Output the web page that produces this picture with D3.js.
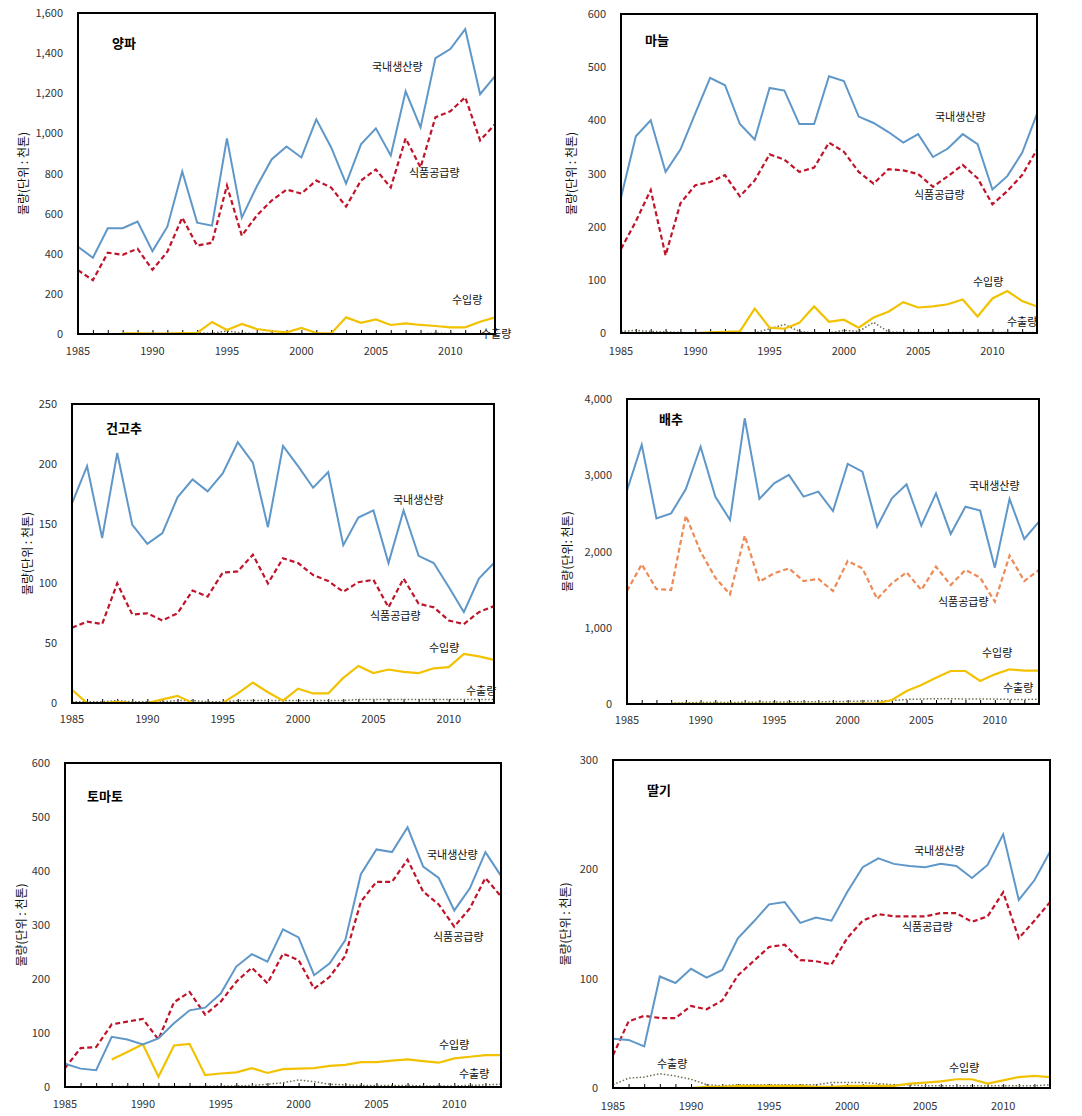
<!DOCTYPE html>
<html><head><meta charset="utf-8">
<script src="https://cdn.jsdelivr.net/npm/d3@7"></script>
<style>
html,body{margin:0;padding:0;background:#fff;}
svg text{font-family:"Noto Sans CJK KR","Noto Sans",sans-serif;}
</style></head>
<body>
<svg id="chart" width="1082" height="1116"></svg>
<script>
const years = [1985,1986,1987,1988,1989,1990,1991,1992,1993,1994,1995,1996,1997,1998,1999,2000,2001,2002,2003,2004,2005,2006,2007,2008,2009,2010,2011,2012,2013];
const xTickLabels = [1985,1990,1995,2000,2005,2010];
const seriesNames = ['국내생산량','식품공급량','수입량','수출량'];
const crops = ['양파','마늘','건고추','배추','토마토','딸기'];

// 양파
const onionProd   = [435,380,527,527,560,413,535,810,555,540,975,580,735,870,935,880,1070,930,750,945,1025,890,1210,1030,1375,1420,1520,1195,1285];
const onionSupply = [318,268,405,395,425,320,410,580,440,455,740,490,590,665,720,700,765,730,635,765,820,730,975,830,1080,1110,1180,965,1045];
const onionImport = [null,null,null,3,3,2,2,5,5,60,20,50,25,15,8,30,5,3,83,56,73,45,53,45,40,33,33,61,83];
const onionExport = [null,null,null,3,3,2,3,5,5,3,15,5,2,2,1,1,1,1,1,1,1,1,1,1,4,2,1,1,1];
// 마늘
const garlicProd   = [255,370,400,303,345,413,480,466,393,364,461,456,393,393,483,474,407,395,378,358,374,331,347,374,355,270,295,339,412];
const garlicSupply = [158,210,269,146,244,278,284,297,257,287,336,326,303,311,358,341,303,281,308,306,299,275,295,316,291,242,267,297,345];
const garlicImport = [null,null,null,null,null,0,1,2,3,46,10,8,19,50,21,25,10,29,40,58,48,50,54,63,31,65,79,60,50];
const garlicExport = [3,5,3,2,1,0,0,1,1,0,8,16,3,0,0,5,3,20,2,1,1,1,1,1,1,1,1,1,1];
// 건고추
const pepperProd   = [167,198,138,209,149,133,142,172,187,177,192,218,201,147,215,198,180,193,132,155,161,117,161,123,117,97,76,104,117];
const pepperSupply = [63,68,66,100,74,75,69,75,94,89,109,110,124,100,121,117,107,102,93,101,103,80,104,83,80,69,66,76,81];
const pepperImport = [11,0,0,1,0,0,3,6,0,0,0,8,17,9,2,12,8,8,21,31,25,28,26,25,29,30,41,39,36];
const pepperExport = [1,1,1,2,1,1,1,2,2,1,1,2,2,2,2,2,2,2,2,3,3,3,3,3,3,3,3,3,3];
// 배추
const cabbageProd   = [2800,3400,2435,2500,2820,3375,2720,2413,3747,2690,2894,3004,2720,2785,2531,3148,3047,2326,2698,2881,2339,2763,2230,2588,2536,1788,2689,2164,2391];
const cabbageSupply = [1482,1832,1508,1495,2470,1998,1657,1438,2208,1605,1714,1779,1613,1640,1482,1876,1779,1377,1583,1727,1495,1801,1561,1758,1657,1342,1946,1613,1758];
const cabbageImport = [null,null,null,2,2,2,2,2,2,2,2,2,2,2,2,2,5,10,52,170,250,345,433,433,302,389,455,437,437];
const cabbageExport = [null,null,null,10,15,20,20,20,22,25,25,28,30,30,32,35,38,40,45,60,65,70,70,65,65,65,60,60,62];
// 토마토
const tomatoProd   = [43,34,31,93,88,79,90,118,142,147,173,223,246,232,292,277,207,229,272,394,440,435,481,408,387,327,368,435,391];
const tomatoSupply = [35,72,74,116,121,126,88,157,176,134,158,195,221,192,247,235,182,204,243,343,380,380,421,362,338,297,331,387,353];
const tomatoImport = [null,null,null,51,65,79,19,77,80,22,25,27,35,26,33,34,35,39,41,46,46,49,51,48,45,53,56,59,59];
const tomatoExport = [null,null,null,1,1,1,1,1,1,1,2,2,3,5,8,13,10,5,4,3,3,3,3,2,2,2,3,4,5];
// 딸기
const strawProd   = [45,44,38,102,96,109,101,108,137,152,168,170,151,156,153,179,202,210,205,203,202,205,203,192,204,232,172,190,216];
const strawSupply = [30,61,66,64,64,75,72,80,103,116,129,131,117,116,113,137,153,159,157,157,157,160,160,152,157,179,137,153,170];
const strawImport = [null,null,null,null,null,0,1,1,2,2,2,2,2,1,1,2,2,2,2,4,5,6,8,8,4,7,10,11,10];
const strawExport = [3,9,10,13,11,8,3,2,3,3,3,3,3,3,5,5,5,4,3,3,2,2,2,2,2,2,2,2,3];

const panels = [
  {title:crops[0], s:[onionProd,onionSupply,onionImport,onionExport], yMax:1600, yStep:200, box:[78,13,495,334], supplyColor:'#C0142B',
   labels:[[372,68],[409,174],[452,301],[481,335]], titlePos:[112,44], yTitleX:25, yTitle:'물량(단위 : 천톤)', xLabelY:352},
  {title:crops[1], s:[garlicProd,garlicSupply,garlicImport,garlicExport], yMax:600, yStep:100, box:[621,14,1037,333], supplyColor:'#C0142B',
   labels:[[935,118],[914,196],[973,283],[1007,323]], titlePos:[645,41], yTitleX:573, yTitle:'물량(단위 : 천톤)', xLabelY:352},
  {title:crops[2], s:[pepperProd,pepperSupply,pepperImport,pepperExport], yMax:250, yStep:50, box:[72,404,494,703], supplyColor:'#C0142B',
   labels:[[393,501],[370,617],[429,649],[466,692]], titlePos:[106,429], yTitleX:29, yTitle:'물량(단위 : 천톤)', xLabelY:720},
  {title:crops[3], s:[cabbageProd,cabbageSupply,cabbageImport,cabbageExport], yMax:4000, yStep:1000, box:[627,399,1039,704], supplyColor:'#EE8A55',
   labels:[[969,487],[938,603],[982,654],[1003,689]], titlePos:[659,420], yTitleX:569, yTitle:'물량(단위: 천톤)', xLabelY:721},
  {title:crops[4], s:[tomatoProd,tomatoSupply,tomatoImport,tomatoExport], yMax:600, yStep:100, box:[65,763,501,1087], supplyColor:'#C0142B',
   labels:[[427,856],[433,938],[439,1046],[459,1075]], titlePos:[87,797], yTitleX:23, yTitle:'물량(단위 : 천톤)', xLabelY:1105},
  {title:crops[5], s:[strawProd,strawSupply,strawImport,strawExport], yMax:300, yStep:100, box:[613,760,1050,1088], supplyColor:'#C0142B',
   labels:[[914,852],[902,928],[949,1069],[657,1065]], titlePos:[647,791], yTitleX:567, yTitle:'물량(단위 : 천톤)', xLabelY:1107}
];

const svg = d3.select('#chart');
const prodColor = '#5F97C8', importColor = '#F2C200', exportColor = '#6E6E50';

panels.forEach(p => {
  const [x0,y0,x1,y1] = p.box;
  const g = svg.append('g');
  const x = d3.scaleLinear().domain([years[0], years[years.length-1]]).range([x0,x1]);
  const y = d3.scaleLinear().domain([0,p.yMax]).range([y1,y0]);
  const yTicks = d3.range(0, p.yMax + 1, p.yStep);
  const fmt = d3.format(',');

  g.append('g').attr('transform',`translate(${x0},0)`)
    .call(d3.axisLeft(y).tickValues(yTicks).tickFormat(fmt).tickSize(0).tickPadding(15))
    .call(a => a.select('.domain').remove())
    .call(a => a.selectAll('text').attr('font-size',11).attr('fill','#333')
      .attr('font-family','"Noto Sans CJK KR","Noto Sans",sans-serif'));

  g.append('g').attr('transform',`translate(0,${y1})`)
    .call(d3.axisBottom(x).tickValues(years).tickSize(-4).tickFormat(''))
    .call(a => a.select('.domain').remove())
    .call(a => a.selectAll('line').attr('stroke','#000'));
  g.append('g').selectAll('text').data(xTickLabels).join('text')
    .attr('x', d => x(d)).attr('y', p.xLabelY)
    .attr('text-anchor','middle').attr('dominant-baseline','middle')
    .attr('font-size',11).attr('fill','#333').text(d => d);

  const line = d3.line().defined(d => d[1] !== null)
    .x(d => x(d[0])).y(d => y(d[1]));
  const pts = arr => years.map((yr,i) => [yr, arr[i]]);

  g.append('path').attr('d', line(pts(p.s[3]))).attr('fill','none')
    .attr('stroke',exportColor).attr('stroke-width',1.5).attr('stroke-dasharray','1.5,2');
  g.append('path').attr('d', line(pts(p.s[2]))).attr('fill','none')
    .attr('stroke',importColor).attr('stroke-width',2.2);
  g.append('path').attr('d', line(pts(p.s[1]))).attr('fill','none')
    .attr('stroke',p.supplyColor).attr('stroke-width',2.2).attr('stroke-dasharray','5,3');
  g.append('path').attr('d', line(pts(p.s[0]))).attr('fill','none')
    .attr('stroke',prodColor).attr('stroke-width',2);

  g.append('rect').attr('x',x0).attr('y',y0).attr('width',x1-x0).attr('height',y1-y0)
    .attr('fill','none').attr('stroke','#000').attr('stroke-width',2);

  p.labels.forEach((pos,i) => {
    g.append('text').attr('x',pos[0]).attr('y',pos[1])
      .attr('dominant-baseline','middle').attr('font-size',11).attr('fill','#111')
      .text(seriesNames[i]);
  });

  g.append('text').attr('x',p.titlePos[0]).attr('y',p.titlePos[1])
    .attr('dominant-baseline','middle').attr('font-size',13).attr('font-weight','bold')
    .attr('fill','#000').text(p.title);

  const cy = (y0+y1)/2;
  g.append('text').attr('transform',`translate(${p.yTitleX},${cy}) rotate(-90)`)
    .attr('text-anchor','middle').attr('dominant-baseline','middle')
    .attr('font-size',12).attr('fill','#111').text(p.yTitle);
});
</script>
</body></html>
